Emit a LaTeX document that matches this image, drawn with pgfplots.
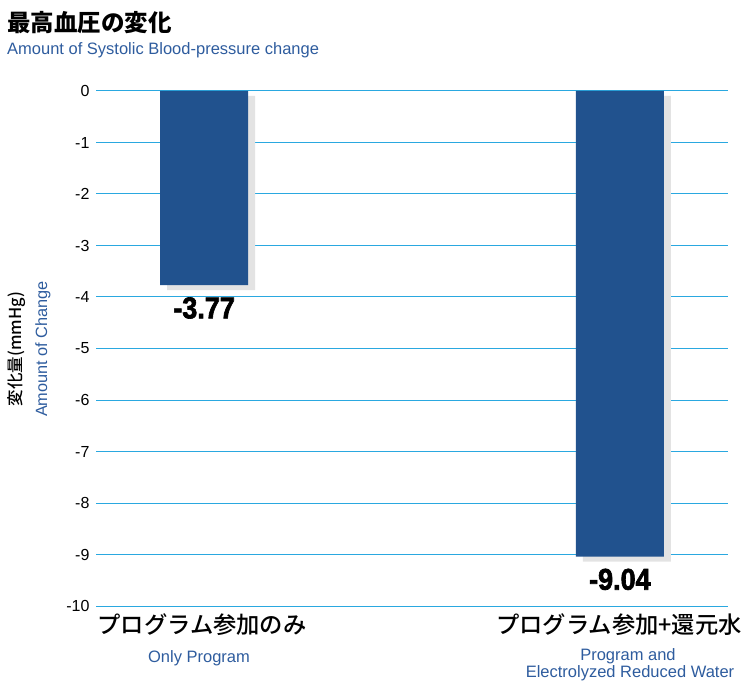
\documentclass[border=0pt]{standalone}
\usepackage{pgfplots}
\pgfplotsset{compat=1.18}
\usetikzlibrary{shadows}
\usepackage{fontspec}
\setmainfont{Liberation Sans}
\newfontfamily\jp{Noto Sans CJK JP}
\newfontfamily\jpm{Noto Sans CJK JP Medium}
\newfontfamily\numf{Liberation Sans}[FakeStretch=0.9, FakeBold=2.2]
\definecolor{barblue}{HTML}{21528E}
\definecolor{gridblue}{HTML}{2AA8E0}
\definecolor{subblue}{HTML}{2E5C9E}
\begin{document}
\begin{tikzpicture}
\useasboundingbox (0,0) rectangle (747pt,-684pt);
% titles
\node[anchor=base west, inner sep=0, font=\jp\bfseries\fontsize{23.5}{25}\selectfont] at (7pt,-31.5pt) {最高血圧の変化};
\node[anchor=base west, inner sep=0, text=subblue, font=\fontsize{16.5}{18}\selectfont] at (7pt,-55pt) {Amount of Systolic Blood-pressure change};
% y labels
\node[rotate=90, inner sep=0, font=\jpm\fontsize{16.5}{18}\selectfont] at (17pt,-349pt) {変化量(mmHg)};
\node[rotate=90, inner sep=0, text=subblue, font=\fontsize{16.3}{18}\selectfont] at (43pt,-349pt) {Amount of Change};
\begin{axis}[
  at={(96pt,-91pt)}, anchor=north west,
  scale only axis, width=632pt, height=515pt,
  xmin=-0.26, xmax=1.26, ymin=-10, ymax=0,
  axis line style={draw=none}, major tick style={draw=none},
  xtick=\empty,
  ytick={-10,-9,-8,-7,-6,-5,-4,-3,-2,-1,0},
  yticklabels={-10,-9,-8,-7,-6,-5,-4,-3,-2,-1,0},
  yticklabel style={font=\fontsize{16}{18}\selectfont, xshift=-3pt},
  ymajorgrids, grid style={gridblue, line width=1pt},
  clip=false,
]
\addplot[ybar, bar width=88pt, fill=barblue, draw=none,
  drop shadow={shadow xshift=7pt, shadow yshift=-5pt, fill=black!11, opacity=1}]
  coordinates {(0,-3.77) (1,-9.04)};
\node[anchor=north, inner sep=0, yshift=-12pt, font=\numf\bfseries\fontsize{30}{30}\selectfont] at (axis cs:0,-3.77) {-3.77};
\node[anchor=north, inner sep=0, yshift=-12pt, font=\numf\bfseries\fontsize{30}{30}\selectfont] at (axis cs:1,-9.04) {-9.04};
\end{axis}
% x labels
\node[anchor=base, inner sep=0, font=\jpm\fontsize{23.3}{25}\selectfont] at (202pt,-633pt) {プログラム参加のみ};
\node[anchor=base, inner sep=0, text=subblue, font=\fontsize{16.5}{18}\selectfont] at (199pt,-662pt) {Only Program};
\node[anchor=base, inner sep=0, font=\jpm\fontsize{23.3}{25}\selectfont] at (619pt,-633pt) {プログラム参加+還元水};
\node[anchor=base, inner sep=0, text=subblue, font=\fontsize{16.5}{18}\selectfont] at (628pt,-660pt) {Program and};
\node[anchor=base, inner sep=0, text=subblue, font=\fontsize{16.5}{18}\selectfont] at (630pt,-677pt) {Electrolyzed Reduced Water};
\end{tikzpicture}
\end{document}
